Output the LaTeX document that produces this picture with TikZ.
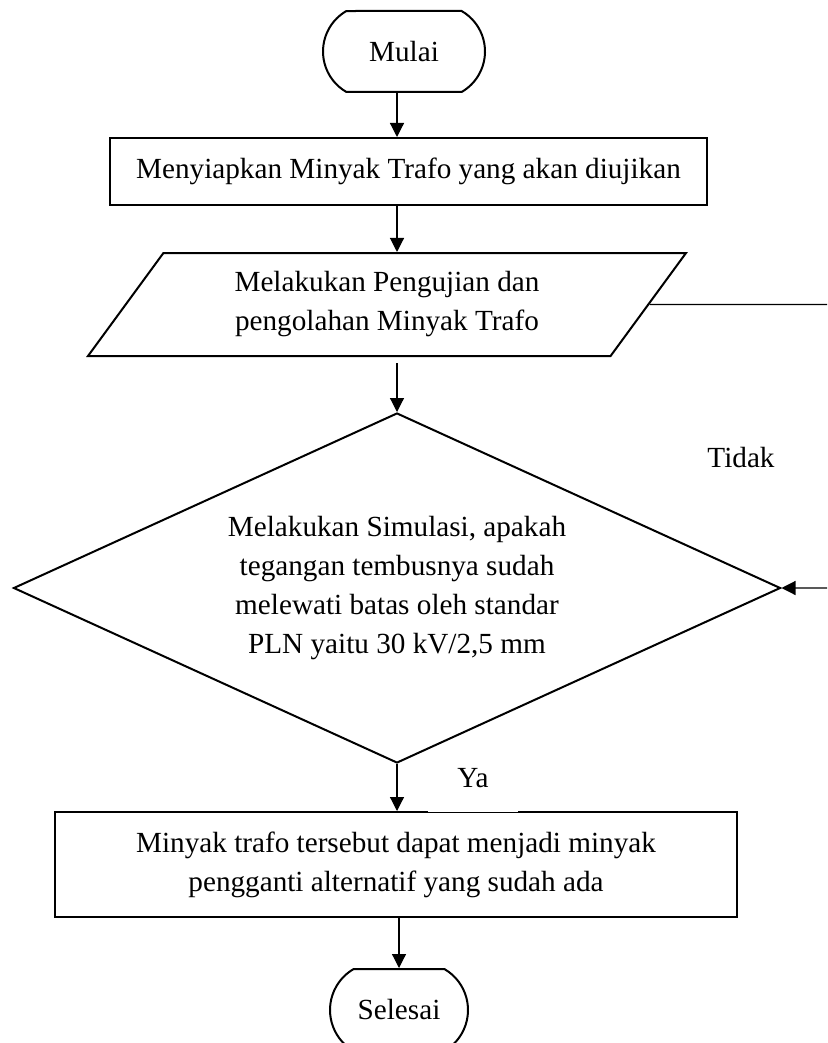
\documentclass[tikz,border=0pt]{standalone}
\usepackage{fontspec}
\setmainfont{Liberation Serif}
\usetikzlibrary{shapes.geometric,shapes.misc,arrows.meta}
\tikzset{
  startstop/.style={rounded rectangle, rounded rectangle arc length=120, draw, line width=1pt, inner sep=0pt},
  prosesbox/.style={rectangle, draw, line width=1pt, align=center, inner sep=0pt},
  iobox/.style={trapezium, trapezium left angle=41, trapezium right angle=139, trapezium stretches body, draw, line width=1pt, align=center, inner sep=0pt},
  decisionbox/.style={diamond, draw, line width=1pt, align=center, inner sep=0pt, aspect=2.19},
  panah/.style={-{Triangle[length=7pt,width=7pt]}, line width=0.6pt},
}
\begin{document}
\begin{tikzpicture}[x=0.5pt, y=-0.5pt, font=\fontsize{14.6}{19.5}\selectfont]
      \useasboundingbox (0,0) rectangle (827,1043);
      \clip (0,0) rectangle (827,1043);

      \node[startstop, minimum width=81pt, minimum height=40.5pt] (mulai) at (404,51.5) {Mulai};
      \node[prosesbox, minimum width=298.5pt, minimum height=33.5pt] (siap) at (408.5,171.5) {Menyiapkan Minyak Trafo yang akan diujikan};
      \node[iobox, minimum width=299pt, minimum height=51.5pt] (uji) at (387,304.5) {Melakukan Pengujian dan\\pengolahan Minyak Trafo};
      \node[prosesbox, minimum width=341pt, minimum height=52.5pt] (hasil) at (396,864.5) {Minyak trafo tersebut dapat menjadi minyak\\pengganti alternatif yang sudah ada};
      \node[fill=white, minimum width=45pt, minimum height=34pt] (ya) at (473,778) {Ya};
      \node[decisionbox, minimum width=383.5pt, minimum height=175pt] (simulasi) at (397,588) {Melakukan Simulasi, apakah\\tegangan tembusnya sudah\\melewati batas oleh standar\\PLN yaitu 30 kV/2,5 mm};
      \node (tidak) at (741,458) {Tidak};
      \node[startstop, minimum width=69pt, minimum height=41pt] (selesai) at (399,1010) {Selesai};
      \coordinate (balik) at (850,304.5);

      \draw[panah] (mulai.south -| simulasi.north) -- (siap.north -| simulasi.north);
      \draw[panah] (siap.south -| simulasi.north) -- (uji.north -| simulasi.north);
      \draw[panah, shorten <=3pt] (uji.south -| simulasi.north) -- (simulasi.north);
      \draw[panah] (simulasi.south) -- (simulasi.south |- hasil.north);
      \draw[panah] (hasil.south -| selesai.north) -- (selesai.north);
      \draw[panah] (uji.east) -- (balik) |- (simulasi.east);
\end{tikzpicture}
\end{document}
